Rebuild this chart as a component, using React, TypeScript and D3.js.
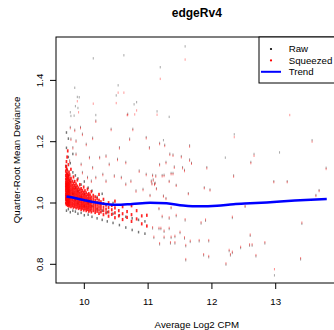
import { useEffect, useRef } from 'react';
import * as d3 from 'd3';

const WIDTH = 334;
const HEIGHT = 330;

// axis limits (R adds 4% around the data)
const xLimits: [number, number] = [9.556, 13.97];
const yLimits: [number, number] = [0.739, 1.5416];
const xTicks = [10, 11, 12, 13];
const yTicks = [0.8, 1.0, 1.2, 1.4];

// dense low-CPM core, one column of CPM with its squeezed deviances
const coreSqueezed: [number, number[]][] = [
  [9.71, [1.0, 1.012, 1.021, 1.03, 1.041, 1.05, 1.058, 1.067, 1.078, 1.09, 1.104, 1.12]],
  [9.72, [0.995, 1.006, 1.016, 1.026, 1.035, 1.046, 1.055, 1.063, 1.074, 1.085, 1.097, 1.113, 1.135]],
  [9.73, [0.998, 1.009, 1.019, 1.028, 1.038, 1.048, 1.057, 1.066, 1.079, 1.092, 1.108, 1.15]],
  [9.74, [0.992, 1.003, 1.013, 1.024, 1.033, 1.043, 1.052, 1.061, 1.071, 1.083, 1.095, 1.17]],
  [9.75, [0.996, 1.005, 1.015, 1.025, 1.036, 1.045, 1.054, 1.064, 1.076, 1.088, 1.125]],
  [9.76, [0.99, 1.001, 1.011, 1.021, 1.031, 1.04, 1.049, 1.059, 1.069, 1.081, 1.101]],
  [9.77, [0.994, 1.004, 1.014, 1.023, 1.033, 1.042, 1.052, 1.062, 1.073, 1.092]],
  [9.79, [0.988, 0.998, 1.008, 1.018, 1.028, 1.037, 1.046, 1.056, 1.066, 1.079, 1.11]],
  [9.81, [0.991, 1.0, 1.01, 1.02, 1.03, 1.039, 1.048, 1.058, 1.071]],
  [9.83, [0.986, 0.996, 1.006, 1.016, 1.025, 1.034, 1.044, 1.053, 1.064, 1.085]],
  [9.85, [0.989, 0.998, 1.008, 1.017, 1.027, 1.036, 1.046, 1.057, 1.07]],
  [9.87, [0.984, 0.994, 1.003, 1.013, 1.022, 1.031, 1.041, 1.051, 1.062]],
  [9.89, [0.987, 0.996, 1.006, 1.015, 1.024, 1.034, 1.044, 1.055, 1.075]],
  [9.91, [0.982, 0.992, 1.001, 1.01, 1.02, 1.029, 1.038, 1.049]],
  [9.93, [0.985, 0.994, 1.004, 1.013, 1.022, 1.032, 1.043, 1.06]],
  [9.95, [0.979, 0.989, 0.998, 1.007, 1.017, 1.026, 1.036, 1.047]],
  [9.97, [0.983, 0.992, 1.001, 1.011, 1.02, 1.03, 1.041]],
  [9.99, [0.977, 0.987, 0.996, 1.005, 1.014, 1.024, 1.035, 1.052]],
  [10.01, [0.981, 0.99, 0.999, 1.009, 1.018, 1.028, 1.04]],
  [10.03, [0.975, 0.985, 0.994, 1.003, 1.012, 1.022, 1.033]],
  [10.05, [0.979, 0.988, 0.998, 1.007, 1.016, 1.027, 1.045]],
  [10.07, [0.973, 0.983, 0.992, 1.001, 1.011, 1.021, 1.031]],
  [10.09, [0.977, 0.987, 0.996, 1.005, 1.015, 1.026]],
  [10.11, [0.971, 0.981, 0.99, 1.0, 1.009, 1.019, 1.037]],
  [10.14, [0.975, 0.985, 0.994, 1.004, 1.014, 1.025]],
  [10.17, [0.969, 0.979, 0.989, 0.998, 1.008, 1.02]],
  [10.2, [0.973, 0.983, 0.993, 1.003, 1.015]],
  [10.23, [0.966, 0.977, 0.987, 0.997, 1.009, 1.028]],
  [10.26, [0.971, 0.982, 0.992, 1.004]],
  [10.3, [0.962, 0.975, 0.986, 0.998, 1.012]],
  [10.34, [0.968, 0.98, 0.993]],
  [10.38, [0.957, 0.971, 0.985, 1.001]],
  [10.43, [0.963, 0.978, 0.992]],
  [10.48, [0.952, 0.968, 0.984, 1.006]],
  [10.54, [0.958, 0.975]],
  [10.6, [0.946, 0.965, 0.988]],
  [10.67, [0.953, 0.972]],
  [10.74, [0.94, 0.962, 0.991]],
  [10.82, [0.948, 0.975]],
  [10.9, [0.932, 0.958]],
  [10.98, [0.925, 0.96]],
];

const coreRaw: [number, number[]][] = [
  [9.72, [0.975, 1.01, 1.06, 1.12, 1.18, 1.23]],
  [9.75, [0.98, 1.04, 1.09, 1.15, 1.21]],
  [9.78, [0.97, 1.02, 1.07, 1.13]],
  [9.82, [0.975, 1.03, 1.1, 1.16]],
  [9.86, [0.972, 1.01, 1.05, 1.09]],
  [9.9, [0.965, 1.0, 1.04, 1.08]],
  [9.95, [0.968, 1.02, 1.06]],
  [10.0, [0.96, 0.99, 1.03, 1.07]],
  [10.06, [0.962, 1.0, 1.05]],
  [10.12, [0.955, 0.99, 1.04]],
  [10.2, [0.95, 0.98, 1.02]],
  [10.28, [0.945, 0.975, 1.03]],
  [10.36, [0.94, 0.97]],
  [10.45, [0.935, 0.965, 1.0]],
  [10.55, [0.928, 0.96]],
  [10.65, [0.92, 0.955]],
  [10.75, [0.912, 0.95]],
  [10.85, [0.905, 0.945]],
  [10.95, [0.9, 0.94]],
];

// scattered genes: [cpm, raw, squeezed]
const scatterPairs: [number, number, number][] = [
  [9.78, 1.248, 1.244], [9.85, 1.239, 1.235], [9.94, 1.248, 1.244], [9.97, 1.226, 1.222],
  [9.79, 1.21, 1.206], [9.87, 1.204, 1.2], [10.03, 1.193, 1.189], [10.13, 1.213, 1.209],
  [10.24, 1.15, 1.146], [10.34, 1.155, 1.151], [10.39, 1.128, 1.124], [10.52, 1.144, 1.14],
  [10.65, 1.134, 1.13], [10.71, 1.21, 1.206], [10.76, 1.242, 1.238], [10.97, 1.215, 1.211],
  [11.02, 1.182, 1.178], [10.55, 1.182, 1.178], [10.42, 1.242, 1.238], [10.68, 1.291, 1.287],
  [10.18, 1.269, 1.265], [10.08, 1.15, 1.146], [10.13, 1.117, 1.113], [9.95, 1.128, 1.124],
  [9.87, 1.161, 1.157], [9.82, 1.182, 1.178], [9.77, 1.139, 1.135], [9.74, 1.106, 1.102],
  [9.79, 1.085, 1.081], [9.84, 1.073, 1.069], [9.97, 1.101, 1.097], [10.05, 1.085, 1.081],
  [10.11, 1.073, 1.069], [10.18, 1.085, 1.081], [10.29, 1.095, 1.091], [10.34, 1.073, 1.069],
  [10.47, 1.09, 1.086], [10.58, 1.085, 1.081], [10.65, 1.063, 1.059], [10.73, 1.073, 1.069],
  [10.81, 1.041, 1.037], [10.92, 1.046, 1.042], [11.05, 1.073, 1.069], [11.1, 1.063, 1.059],
  [11.12, 1.09, 1.086], [10.97, 1.095, 1.091], [10.86, 1.106, 1.102],
  [11.26, 1.19, 1.186], [11.18, 1.196, 1.192], [11.65, 1.188, 1.184], [12.66, 1.16, 1.154],
  [11.34, 1.161, 1.157], [11.39, 1.158, 1.154], [11.52, 1.153, 1.149], [11.65, 1.142, 1.138],
  [11.68, 1.131, 1.128], [11.28, 1.134, 1.13], [11.18, 1.127, 1.123], [12.61, 1.134, 1.13],
  [11.41, 1.119, 1.115], [11.54, 1.117, 1.113], [11.57, 1.108, 1.104], [11.92, 1.117, 1.113],
  [11.36, 1.098, 1.094], [11.39, 1.098, 1.094], [11.25, 1.092, 1.088], [11.22, 1.091, 1.087],
  [11.07, 1.092, 1.088], [13.79, 1.115, 1.111], [12.34, 1.09, 1.086], [11.08, 1.077, 1.073],
  [11.11, 1.066, 1.063], [11.06, 1.064, 1.061], [11.33, 1.072, 1.069], [11.44, 1.059, 1.056],
  [12.97, 1.071, 1.068], [13.18, 1.071, 1.068], [11.13, 1.048, 1.045], [11.88, 1.051, 1.048],
  [11.97, 1.044, 1.041], [11.63, 1.032, 1.029], [13.68, 1.042, 1.039], [11.03, 1.026, 1.023],
  [11.24, 1.024, 1.021], [11.28, 1.016, 1.013], [13.63, 1.026, 1.023], [12.52, 0.988, 0.99],
  [11.17, 0.98, 0.983], [11.36, 0.983, 0.986], [11.22, 0.954, 0.958], [11.33, 0.949, 0.953],
  [11.44, 0.957, 0.961], [12.32, 0.951, 0.955], [11.58, 0.943, 0.947], [11.83, 0.933, 0.937],
  [11.9, 0.942, 0.946], [13.41, 0.932, 0.936], [11.07, 0.917, 0.921], [11.17, 0.915, 0.919],
  [11.2, 0.915, 0.919], [11.33, 0.915, 0.919], [11.25, 0.906, 0.91], [11.5, 0.902, 0.906],
  [11.09, 0.886, 0.89], [11.25, 0.886, 0.89], [11.36, 0.886, 0.89], [11.42, 0.889, 0.893],
  [11.57, 0.884, 0.888], [12.6, 0.893, 0.897], [11.18, 0.865, 0.869], [11.35, 0.868, 0.872],
  [11.42, 0.868, 0.872], [11.66, 0.873, 0.877], [11.8, 0.875, 0.879], [11.95, 0.875, 0.879],
  [12.83, 0.868, 0.872], [11.59, 0.859, 0.863], [12.45, 0.853, 0.857], [12.59, 0.861, 0.865],
  [12.63, 0.861, 0.865], [12.27, 0.843, 0.847], [12.32, 0.837, 0.841], [12.29, 0.829, 0.833],
  [11.87, 0.829, 0.833], [11.95, 0.823, 0.827], [12.69, 0.826, 0.83], [11.59, 0.813, 0.817],
  [13.39, 0.816, 0.82], [12.22, 0.799, 0.803], [12.98, 0.764, 0.784],
];

// high-deviance genes where raw and squeezed sit apart
const rawHigh: [number, number][] = [
  [10.14, 1.472], [10.62, 1.482], [9.85, 1.376], [10.53, 1.384], [9.89, 1.346], [9.92, 1.345],
  [10.5, 1.351], [9.86, 1.316], [9.9, 1.31], [9.78, 1.296], [9.79, 1.284], [9.84, 1.285],
  [10.18, 1.287], [10.82, 1.329], [10.78, 1.322], [11.58, 1.511], [11.19, 1.443], [11.14, 1.299],
  [11.33, 1.281], [12.35, 1.224], [11.24, 1.205], [13.06, 1.165], [12.21, 1.148], [13.57, 1.205],
];
const squeezedHigh: [number, number][] = [
  [10.53, 1.36], [10.62, 1.36], [9.89, 1.332], [10.14, 1.324], [10.5, 1.326], [9.91, 1.296],
  [10.82, 1.302], [10.79, 1.289], [10.67, 1.287], [11.58, 1.468], [11.19, 1.405], [11.14, 1.288],
  [13.22, 1.287], [12.35, 1.215], [13.57, 1.2],
];

const trend: [number, number][] = [
  [9.72, 1.021], [9.85, 1.016], [10.0, 1.009], [10.25, 0.999], [10.5, 0.994], [10.75, 0.997],
  [11.03, 1.001], [11.29, 0.999], [11.55, 0.992], [11.81, 0.989], [12.08, 0.991], [12.34, 0.996],
  [12.6, 0.999], [12.86, 1.002], [13.3, 1.008], [13.8, 1.013],
];

const legendItems = [
  { label: 'Raw', kind: 'dot', color: '#000000' },
  { label: 'Squeezed', kind: 'dot', color: '#ff0000' },
  { label: 'Trend', kind: 'line', color: '#0000ff' },
];

type Pt = [number, number];

export default function App() {
  const svgRef = useRef<SVGSVGElement>(null);

  useEffect(() => {
    if (!svgRef.current) return;
    const svg = d3.select(svgRef.current);
    svg.selectAll('*').remove();

    const font = 'Liberation Sans, Arial, Helvetica, sans-serif';
    const left = 56;
    const right = 337.6;
    const top = 37;
    const bottom = 283;

    const x = d3.scaleLinear().domain(xLimits).range([left, right]);
    const y = d3.scaleLinear().domain(yLimits).range([bottom, top]);

    svg.append('rect').attr('width', WIDTH).attr('height', HEIGHT).attr('fill', '#fff');

    svg.append('clipPath').attr('id', 'plot-clip')
      .append('rect')
      .attr('x', left).attr('y', top)
      .attr('width', right - left).attr('height', bottom - top);

    const plot = svg.append('g').attr('clip-path', 'url(#plot-clip)');

    const fromColumns = (cols: [number, number[]][]) =>
      cols.flatMap(([cx, ys]) => ys.map((v) => [cx, v] as Pt));

    // pch="." style marks
    const drawPoints = (pts: Pt[], color: string, opacity: number, w: number, h: number) => {
      plot.append('g')
        .selectAll('rect')
        .data(pts)
        .enter()
        .append('rect')
        .attr('x', (d) => x(d[0]) - w / 2)
        .attr('y', (d) => y(d[1]) - h / 2)
        .attr('width', w)
        .attr('height', h)
        .attr('fill', color)
        .attr('opacity', opacity);
    };

    drawPoints(fromColumns(coreRaw), '#000', 0.55, 1.4, 2.6);
    drawPoints(scatterPairs.map(([cx, r]) => [cx, r] as Pt), '#000', 0.35, 1, 2.4);
    drawPoints(rawHigh, '#000', 0.35, 1, 2.4);
    drawPoints(fromColumns(coreSqueezed), '#ff0000', 0.85, 1.7, 3.2);
    drawPoints(scatterPairs.map(([cx, , s]) => [cx, s] as Pt), '#ff0000', 0.45, 1, 2.4);
    drawPoints(squeezedHigh, '#ff0000', 0.4, 1, 2.4);

    const line = d3.line<Pt>()
      .x((d) => x(d[0]))
      .y((d) => y(d[1]))
      .curve(d3.curveMonotoneX);

    plot.append('path')
      .datum(trend)
      .attr('fill', 'none')
      .attr('stroke', '#0000ff')
      .attr('stroke-width', 2.5)
      .attr('d', line);

    // box
    svg.append('rect')
      .attr('x', left).attr('y', top)
      .attr('width', right - left).attr('height', bottom - top)
      .attr('fill', 'none').attr('stroke', '#000').attr('stroke-width', 1);

    // x axis
    const xg = svg.append('g');
    xg.selectAll('line').data(xTicks).enter().append('line')
      .attr('x1', (d) => x(d)).attr('x2', (d) => x(d))
      .attr('y1', bottom).attr('y2', bottom + 6)
      .attr('stroke', '#000');
    xg.selectAll('text').data(xTicks).enter().append('text')
      .attr('x', (d) => x(d)).attr('y', 305)
      .attr('text-anchor', 'middle')
      .attr('font-family', font).attr('font-size', 9.7)
      .text((d) => String(d));

    // y axis
    const yg = svg.append('g');
    yg.selectAll('line').data(yTicks).enter().append('line')
      .attr('x1', left - 6).attr('x2', left)
      .attr('y1', (d) => y(d)).attr('y2', (d) => y(d))
      .attr('stroke', '#000');
    yg.selectAll('text').data(yTicks).enter().append('text')
      .attr('transform', (d) => `translate(43,${y(d)}) rotate(-90)`)
      .attr('text-anchor', 'middle')
      .attr('font-family', font).attr('font-size', 9.7)
      .text((d) => d3.format('.1f')(d));

    // titles
    svg.append('text')
      .attr('x', (left + right) / 2).attr('y', 17)
      .attr('text-anchor', 'middle')
      .attr('font-family', font).attr('font-size', 12).attr('font-weight', 'bold')
      .text('edgeRv4');
    svg.append('text')
      .attr('x', (left + right) / 2).attr('y', 328)
      .attr('text-anchor', 'middle')
      .attr('font-family', font).attr('font-size', 9.7)
      .text('Average Log2 CPM');
    svg.append('text')
      .attr('transform', `translate(20,${(top + bottom) / 2}) rotate(-90)`)
      .attr('text-anchor', 'middle')
      .attr('font-family', font).attr('font-size', 9.7)
      .text('Quarter-Root Mean Deviance');

    // legend
    const lg = svg.append('g');
    lg.append('rect')
      .attr('x', 259).attr('y', top)
      .attr('width', 80).attr('height', 46)
      .attr('fill', '#fff').attr('stroke', '#000');
    legendItems.forEach((item, i) => {
      const cy = 49 + i * 11.4;
      if (item.kind === 'dot') {
        lg.append('circle')
          .attr('cx', 271).attr('cy', cy).attr('r', 1.1)
          .attr('fill', item.color);
      } else {
        lg.append('line')
          .attr('x1', 261).attr('x2', 281)
          .attr('y1', cy).attr('y2', cy)
          .attr('stroke', item.color).attr('stroke-width', 2);
      }
      lg.append('text')
        .attr('x', 288.7).attr('y', cy + 3.4)
        .attr('font-family', font).attr('font-size', 9.7)
        .text(item.label);
    });
  }, []);

  return (
    <svg
      ref={svgRef}
      width={WIDTH}
      height={HEIGHT}
      style={{ position: 'absolute', left: 0, top: 0, display: 'block' }}
    />
  );
}
